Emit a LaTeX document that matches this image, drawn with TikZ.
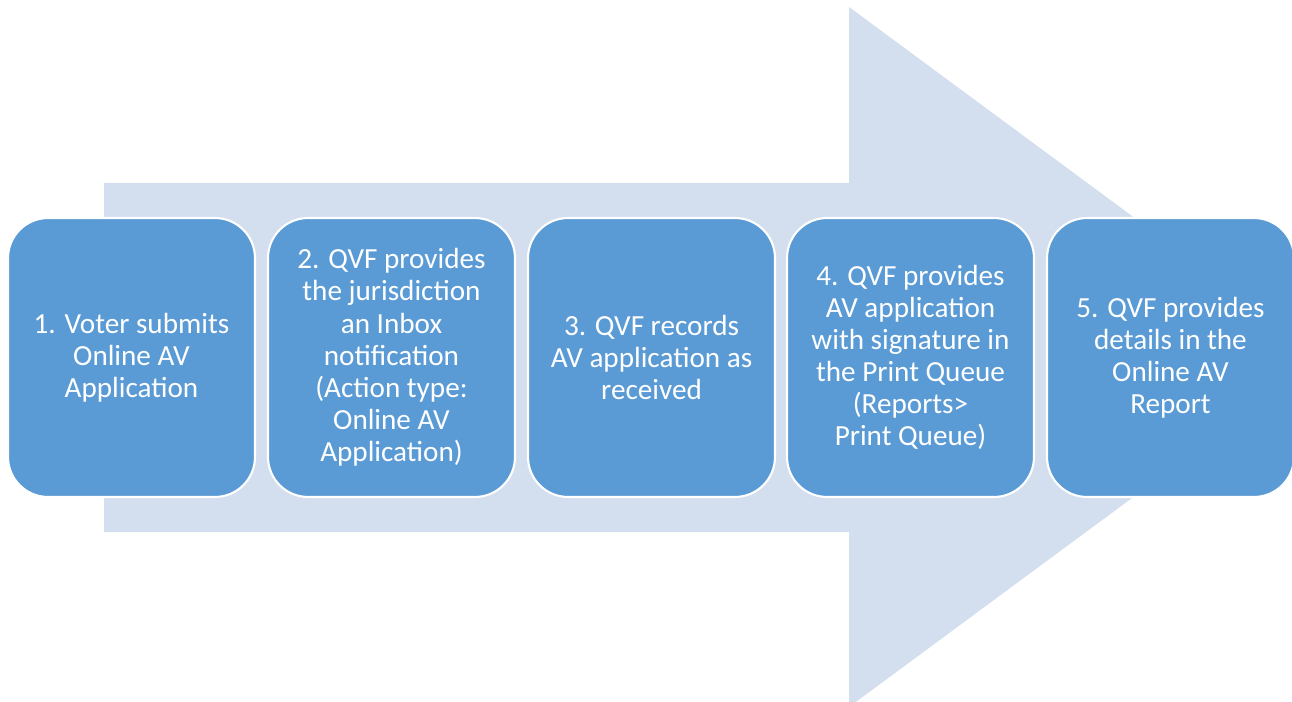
\documentclass[tikz,border=0pt]{standalone}
\usepackage{fontspec}
\setmainfont{Carlito}
\definecolor{arrowblue}{RGB}{211,222,239}
\definecolor{boxblue}{RGB}{91,155,213}
\begin{document}
\begin{tikzpicture}[x=0.02cm,y=-0.02cm,
    stepbox/.style={draw=white,line width=1.2pt,fill=boxblue,rounded corners=0.8cm,
      minimum width=4.94cm,minimum height=5.58cm,align=center,text=white,
      font=\fontsize{16.6}{18.3}\selectfont}]
  \clip (0,0) rectangle (1292,702);
  \fill[arrowblue] (104,183) -- (849,183) -- (849,7) -- (1323,357)
    -- (849,707) -- (849,532) -- (104,532) -- cycle;
  \draw
    (131.5,357.5) node[stepbox] (1){1. Voter submits\\Online AV\\Application}
    (391.5,357.5) node[stepbox] (2){2. QVF provides\\the jurisdiction\\an Inbox\\notification\\(Action type:\\Online AV\\Application)}
    (651.5,357.5) node[stepbox] (3){3. QVF records\\AV application as\\received}
    (910.5,357.5) node[stepbox] (4){4. QVF provides\\AV application\\with signature in\\the Print Queue\\(Reports>\\Print Queue)}
    (1170.5,357.5) node[stepbox] (5){5. QVF provides\\details in the\\Online AV\\Report};
\end{tikzpicture}
\end{document}
